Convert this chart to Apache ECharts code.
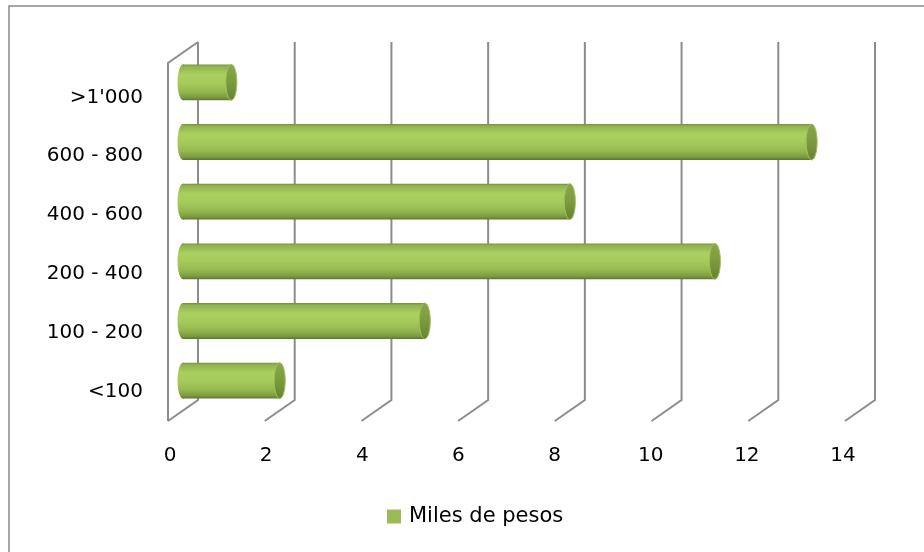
<!DOCTYPE html>
<html><head><meta charset="utf-8">
<script src="https://cdn.jsdelivr.net/npm/echarts@6/dist/echarts.min.js"></script>
<style>html,body{margin:0;padding:0;background:#fff}#c{width:924px;height:552px}</style>
</head><body><div id="c"></div>
<script>
// ---- data ----
const categories = ['<100', '100 - 200', '200 - 400', '400 - 600', '600 - 800', ">1'000"];
const values = [2, 5, 11, 8, 13, 1];
const xTicks = [0, 2, 4, 6, 8, 10, 12, 14];
const seriesName = 'Miles de pesos';

// ---- style ----
const DEPTH = [30, -21];
const FONT = 'DejaVu Sans';
const LINE = '#8c8c8c';

const chart = echarts.init(document.getElementById('c'), null, { renderer: 'canvas' });

function gridRender(params, api) {
  const cs = params.coordSys;
  const x = api.coord([api.value(0), 0])[0];
  const top = cs.y, bottom = cs.y + cs.height;
  const style = { stroke: LINE, lineWidth: 2, fill: null };
  const children = [{
    type: 'polyline',
    shape: { points: [[x + DEPTH[0], top + DEPTH[1]], [x + DEPTH[0], bottom + DEPTH[1]], [x, bottom]] },
    style
  }];
  if (params.dataIndex === 0) {
    children.push({ type: 'polyline', shape: { points: [[x + DEPTH[0], top + DEPTH[1]], [x, top], [x, bottom]] }, style });
  }
  return { type: 'group', children };
}

function barRender(params, api) {
  const v = api.value(0);
  const cat = api.value(1);
  const start = api.coord([0, cat]);
  const end = api.coord([v, cat]);
  const band = api.size([0, 1])[1];
  const h = band * 0.6;
  const ox = DEPTH[0] / 2, oy = DEPTH[1] / 2;
  const cy = start[1] + oy;
  const x0 = start[0] + ox, x1 = end[0] + ox;
  const rx = 5.5, ry = h / 2;
  const body = new echarts.graphic.LinearGradient(0, 0, 0, 1, [
    { offset: 0, color: '#76903e' },
    { offset: 0.05, color: '#90b04d' },
    { offset: 0.28, color: '#aad060' },
    { offset: 0.5, color: '#a6cb5c' },
    { offset: 0.75, color: '#95b950' },
    { offset: 0.92, color: '#7c9b3f' },
    { offset: 1, color: '#5c772d' }
  ]);
  const cap = new echarts.graphic.LinearGradient(0, 0, 0, 1, [
    { offset: 0, color: '#8aa84a' },
    { offset: 0.5, color: '#7b9a3e' },
    { offset: 1, color: '#67832f' }
  ]);
  return {
    type: 'group', children: [
      { type: 'ellipse', shape: { cx: x0, cy, rx, ry }, style: { fill: body } },
      { type: 'rect', shape: { x: x0, y: cy - ry, width: x1 - x0, height: h }, style: { fill: body } },
      { type: 'ellipse', shape: { cx: x1, cy, rx, ry }, style: { fill: cap, stroke: '#9ec15a', lineWidth: 1 } }
    ]
  };
}

const hidden = { axisLine: { show: false }, axisTick: { show: false }, splitLine: { show: false } };

chart.setOption({
  animation: false,
  backgroundColor: '#fff',
  textStyle: { fontFamily: FONT },
  grid: [
    { left: 168, right: 79, top: 63, bottom: 131, containLabel: false },
    { left: 170, right: 81, top: 68, bottom: 131, containLabel: false }
  ],
  xAxis: [
    { gridIndex: 0, type: 'value', min: 0, max: 14, interval: 2, ...hidden, axisLabel: { show: false } },
    { gridIndex: 1, type: 'value', min: 0, max: 14, interval: 2, ...hidden,
      axisLabel: { fontSize: 20, color: '#000', margin: 25, fontFamily: FONT } }
  ],
  yAxis: [
    { gridIndex: 0, type: 'category', data: categories, ...hidden, axisLabel: { show: false } },
    { gridIndex: 1, type: 'category', data: categories, ...hidden,
      axisLabel: { fontSize: 20, color: '#000', margin: 27, fontFamily: FONT } }
  ],
  legend: {
    left: 387, top: 506, padding: 0, itemWidth: 14, itemHeight: 14,
    data: [{ name: seriesName, icon: 'rect', itemStyle: { color: '#9bbb59' } }],
    textStyle: { fontSize: 21, color: '#000', fontFamily: FONT, padding: [0, 0, 0, 3] }
  },
  graphic: [
    { type: 'polyline', shape: { points: [[9, 552], [9, 6], [924, 6]] }, style: { stroke: '#888', lineWidth: 1.5, fill: null }, silent: true }
  ],
  series: [
    {
      type: 'custom', name: 'grid', renderItem: gridRender, z: 1, silent: true,
      xAxisIndex: 0, yAxisIndex: 0,
      data: xTicks.map(v => [v, 0]), encode: { x: 0, y: 1 }
    },
    {
      type: 'custom', name: seriesName, renderItem: barRender, z: 2,
      xAxisIndex: 0, yAxisIndex: 0,
      itemStyle: { color: '#9bbb59' },
      data: values.map((v, i) => [v, i]), encode: { x: 0, y: 1 }
    }
  ]
});
</script>
</body></html>
